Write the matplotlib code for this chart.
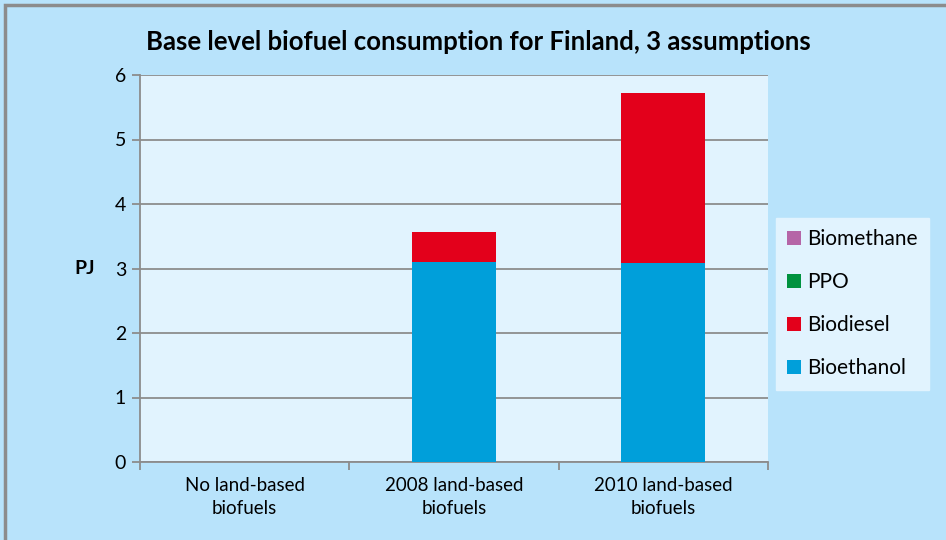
import numpy as np
import matplotlib.pyplot as plt
from matplotlib.patches import Rectangle

categories = ['No land-based\nbiofuels', '2008 land-based\nbiofuels', '2010 land-based\nbiofuels']
bioethanol = [0, 3.10, 3.09]
biodiesel = [0, 0.47, 2.63]
ppo = [0, 0, 0]
biomethane = [0, 0, 0]

col_eth = '#009fda'
col_die = '#e3001b'
col_ppo = '#00923f'
col_met = '#b565a7'
fig_bg = '#b8e3fb'
ax_bg = '#e1f3fe'
grey = '#8c8c8c'

plt.rcParams['font.family'] = ['Lato', 'DejaVu Sans']

fig = plt.figure(figsize=(9.46, 5.40), dpi=100, facecolor=fig_bg)
W, H = 946, 540
ax = fig.add_axes([140/W, 1-462/H, 628/W, 387/H])
ax.set_facecolor(ax_bg)

x = np.arange(len(categories))
w = 0.4
b1 = np.array(bioethanol)
b2 = b1 + np.array(biodiesel)
b3 = b2 + np.array(ppo)
ax.bar(x, bioethanol, w, color=col_eth, label='Bioethanol', zorder=3)
ax.bar(x, biodiesel, w, bottom=b1, color=col_die, label='Biodiesel', zorder=3)
ax.bar(x, ppo, w, bottom=b2, color=col_ppo, label='PPO', zorder=3)
ax.bar(x, biomethane, w, bottom=b3, color=col_met, label='Biomethane', zorder=3)

ax.set_xlim(-0.5, 2.5)
ax.set_ylim(0, 6)
ax.set_yticks(range(7))
ax.yaxis.grid(True, color=grey, linewidth=1.3, zorder=0)
ax.set_xticks(x)
ax.set_xticklabels(categories, fontsize=13.5, linespacing=1.4)
ax.set_xticks([-0.5, 0.5, 1.5, 2.5], minor=True)
ax.tick_params(axis='x', which='major', length=0, pad=11)
ax.tick_params(axis='x', which='minor', length=6, width=1.3, color=grey)
ax.tick_params(axis='y', length=6, width=1.3, color=grey, labelsize=14, pad=4)
for s in ['top', 'right']:
    ax.spines[s].set_visible(False)
for s in ['left', 'bottom']:
    ax.spines[s].set_color(grey)
    ax.spines[s].set_linewidth(1.3)

ax.set_ylabel('PJ', fontsize=14, fontweight='bold', rotation=0, labelpad=22, va='center')

fig.text(478/W, 1-42/H, 'Base level biofuel consumption for Finland, 3 assumptions',
         fontsize=18.5, fontweight='bold', ha='center', va='center')

h, l = ax.get_legend_handles_labels()
leg = fig.legend(h[::-1], l[::-1], loc='upper left', bbox_to_anchor=(776/W, 1-218/H),
                 fontsize=15, frameon=True, fancybox=False, handlelength=0.67,
                 handleheight=0.67, handletextpad=0.25, labelspacing=1.1,
                 borderpad=0.55, borderaxespad=0)
leg.get_frame().set_facecolor(ax_bg)
leg.get_frame().set_edgecolor(ax_bg)
leg.get_frame().set_alpha(1)

fig.patches.append(Rectangle((5/W, -0.1), 1.1, 1 - 5/H + 0.1, transform=fig.transFigure,
                             fill=False, edgecolor=grey, linewidth=2.5))

fig.savefig('out.png', dpi=100, facecolor=fig_bg)
